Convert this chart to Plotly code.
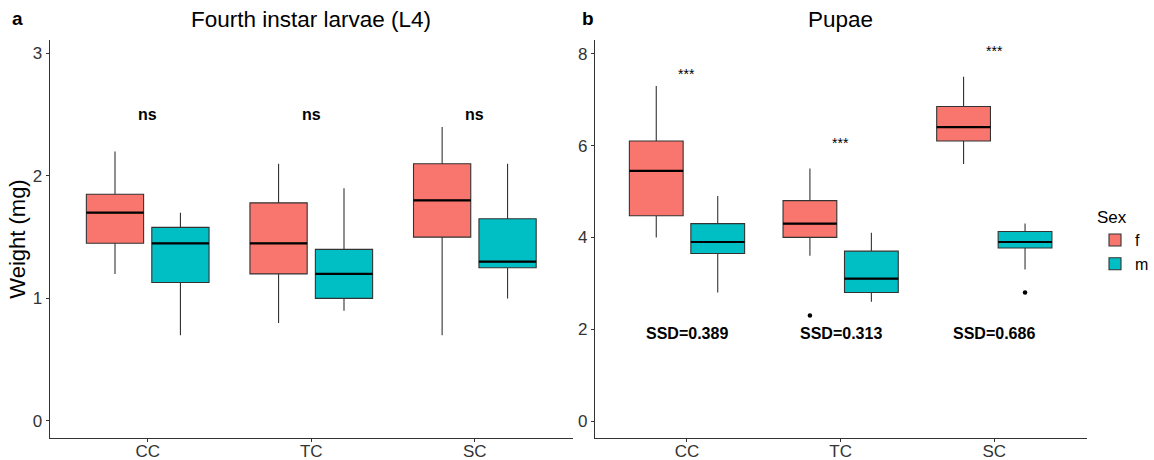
import plotly.graph_objects as go

# ---------------- data ----------------
categories = ["CC", "TC", "SC"]
sexes = ["f", "m"]
sex_colors = ["#F8766D", "#00BFC4"]

# Fourth instar larvae (L4) box statistics (mg)
l4_f_lower = [1.20, 0.80, 0.70]
l4_f_q1 = [1.45, 1.20, 1.50]
l4_f_median = [1.70, 1.45, 1.80]
l4_f_q3 = [1.85, 1.78, 2.10]
l4_f_upper = [2.20, 2.10, 2.40]

l4_m_lower = [0.70, 0.90, 1.00]
l4_m_q1 = [1.13, 1.00, 1.25]
l4_m_median = [1.45, 1.20, 1.30]
l4_m_q3 = [1.58, 1.40, 1.65]
l4_m_upper = [1.70, 1.90, 2.10]

# Pupae box statistics (mg)
pu_f_lower = [4.00, 3.60, 5.60]
pu_f_q1 = [4.47, 4.00, 6.10]
pu_f_median = [5.45, 4.30, 6.40]
pu_f_q3 = [6.10, 4.80, 6.85]
pu_f_upper = [7.30, 5.50, 7.50]

pu_m_lower = [2.80, 2.60, 3.30]
pu_m_q1 = [3.65, 2.80, 3.77]
pu_m_median = [3.90, 3.10, 3.90]
pu_m_q3 = [4.30, 3.70, 4.13]
pu_m_upper = [4.90, 4.10, 4.30]

# outliers
pu_f_out_cat = ["TC"]
pu_f_out_val = [2.30]
pu_m_out_cat = ["SC"]
pu_m_out_val = [2.80]

# annotations
l4_sig = ["ns", "ns", "ns"]
l4_sig_y = [2.5, 2.5, 2.5]
pu_sig = ["***", "***", "***"]
pu_sig_y = [7.55, 6.05, 8.05]
pu_ssd = ["SSD=0.389", "SSD=0.313", "SSD=0.686"]
pu_ssd_y = [1.9, 1.9, 1.9]

# ---------------- figure ----------------
FONT = "Liberation Sans, Arial, sans-serif"
LINE = "#333333"

fig = go.Figure()

def add_boxes(xa, ya, stats_f, stats_m, showlegend):
    for sex, col, st in zip(sexes, sex_colors, [stats_f, stats_m]):
        lo, q1, med, q3, up = st
        fig.add_trace(go.Box(
            x=categories, lowerfence=lo, q1=q1, median=med, q3=q3, upperfence=up,
            name=sex, legendgroup=sex, showlegend=showlegend,
            offsetgroup=sex, fillcolor=col,
            line=dict(color=LINE, width=1.1), whiskerwidth=0,
            xaxis=xa, yaxis=ya, boxpoints=False,
        ))
        # thicker median line
        fig.add_trace(go.Box(
            x=categories, lowerfence=med, q1=med, median=med, q3=med, upperfence=med,
            name=sex, legendgroup=sex, showlegend=False,
            offsetgroup=sex, fillcolor="rgba(0,0,0,0)",
            line=dict(color="black", width=2.2), whiskerwidth=0,
            xaxis=xa, yaxis=ya, boxpoints=False, hoverinfo="skip",
        ))

add_boxes("x", "y",
          (l4_f_lower, l4_f_q1, l4_f_median, l4_f_q3, l4_f_upper),
          (l4_m_lower, l4_m_q1, l4_m_median, l4_m_q3, l4_m_upper), False)
add_boxes("x2", "y2",
          (pu_f_lower, pu_f_q1, pu_f_median, pu_f_q3, pu_f_upper),
          (pu_m_lower, pu_m_q1, pu_m_median, pu_m_q3, pu_m_upper), True)

for sex, cats, vals in [("f", pu_f_out_cat, pu_f_out_val), ("m", pu_m_out_cat, pu_m_out_val)]:
    fig.add_trace(go.Box(
        x=cats, y=vals, name=sex, offsetgroup=sex, showlegend=False,
        boxpoints="all", jitter=0, pointpos=0,
        fillcolor="rgba(0,0,0,0)", line=dict(color="rgba(0,0,0,0)", width=0),
        marker=dict(color="black", size=4.5), xaxis="x2", yaxis="y2",
    ))

ydom = [1 - 438 / 460, 1 - 40 / 460]
axis_common = dict(showline=True, linecolor=LINE, linewidth=1, ticks="outside",
                   ticklen=3, tickcolor=LINE, showgrid=False, zeroline=False,
                   tickfont=dict(family=FONT, size=17, color="#333"), automargin=False)

fig.update_layout(
    width=1154, height=460,
    margin=dict(l=0, r=0, t=0, b=0),
    paper_bgcolor="white", plot_bgcolor="white",
    boxmode="group", boxgap=0.2, boxgroupgap=0.125,
    font=dict(family=FONT, color="black"),
    xaxis=dict(domain=[50 / 1154, 578 / 1154], type="category",
               categoryorder="array", categoryarray=categories,
               range=[-0.6, 2.6], anchor="y", ticklabelstandoff=-5, **axis_common),
    yaxis=dict(domain=ydom, range=[-0.14, 3.11], tickvals=[0, 1, 2, 3],
               anchor="x", title=dict(text="Weight (mg)", font=dict(size=22, family=FONT), standoff=0),
               **axis_common),
    xaxis2=dict(domain=[600 / 1154, 1096 / 1154], type="category",
                categoryorder="array", categoryarray=categories,
                range=[-0.6, 2.6], anchor="y2", ticklabelstandoff=-5, **axis_common),
    yaxis2=dict(domain=ydom, range=[-0.37, 8.3], tickvals=[0, 2, 4, 6, 8],
                anchor="x2", **axis_common),
    legend=dict(x=1105 / 1154, y=1 - 201 / 460, xanchor="left", yanchor="top",
                title=dict(text="Sex", font=dict(size=17, family=FONT)),
                font=dict(size=16, family=FONT), tracegroupgap=0,
                itemwidth=30, bgcolor="rgba(0,0,0,0)"),
)

ann = []
for c, t, y in zip(categories, l4_sig, l4_sig_y):
    ann.append(dict(x=c, y=y, xref="x", yref="y", text="<b>%s</b>" % t, showarrow=False,
                    font=dict(size=16, family=FONT)))
for c, t, y in zip(categories, pu_sig, pu_sig_y):
    ann.append(dict(x=c, y=y, xref="x2", yref="y2", text=t, showarrow=False,
                    font=dict(size=14, family=FONT)))
for c, t, y in zip(categories, pu_ssd, pu_ssd_y):
    ann.append(dict(x=c, y=y, xref="x2", yref="y2", text="<b>%s</b>" % t, showarrow=False,
                    font=dict(size=16, family=FONT)))
# panel titles and labels
ann.append(dict(x=313.5 / 1154, y=1 - 20 / 460, xref="paper", yref="paper",
                xanchor="center", yanchor="middle",
                text="Fourth instar larvae (L4)", showarrow=False,
                font=dict(size=22.5, family=FONT)))
ann.append(dict(x=848 / 1154, y=1 - 20 / 460, xref="paper", yref="paper",
                xanchor="center", yanchor="middle",
                text="Pupae", showarrow=False, font=dict(size=22.5, family=FONT)))
ann.append(dict(x=18 / 1154, y=1 - 18 / 460, xref="paper", yref="paper",
                xanchor="center", yanchor="middle",
                text="<b>a</b>", showarrow=False, font=dict(size=19, family=FONT)))
ann.append(dict(x=593 / 1154, y=1 - 18 / 460, xref="paper", yref="paper",
                xanchor="center", yanchor="middle",
                text="<b>b</b>", showarrow=False, font=dict(size=19, family=FONT)))
fig.update_layout(annotations=ann)

fig.write_html("out.html", config={"displayModeBar": False},
               post_script="document.body.style.margin='0';document.body.style.overflow='hidden';")
